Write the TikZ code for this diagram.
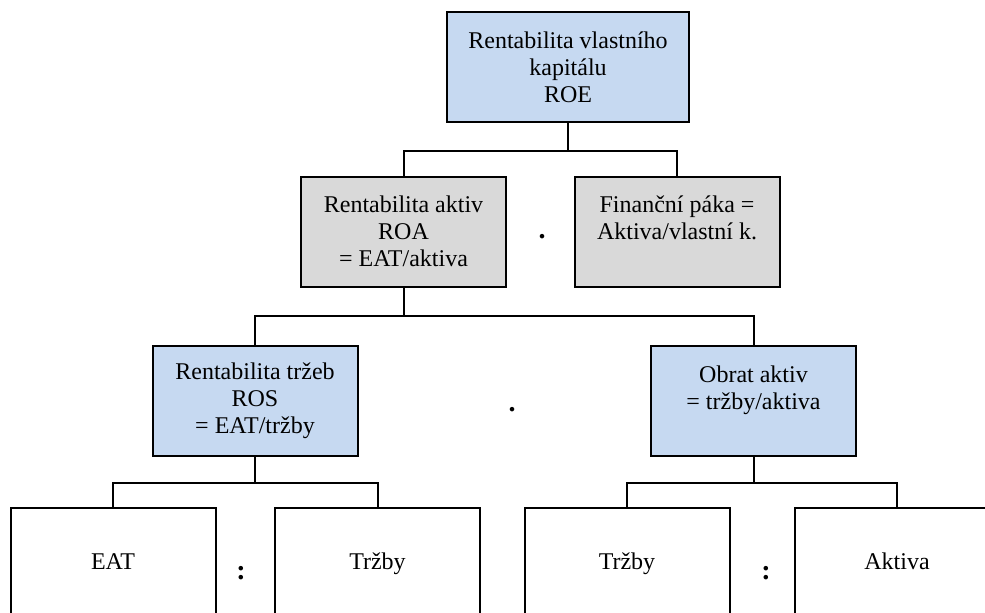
\documentclass[tikz,border=0pt]{standalone}
\usepackage{fontspec}
\setmainfont{Liberation Serif}
\definecolor{boxblue}{HTML}{C6D9F1}
\definecolor{boxgray}{HTML}{D9D9D9}
\begin{document}
\begin{tikzpicture}[x=0.5pt,y=-0.5pt,line width=1pt,
  box/.style={draw=black,inner sep=0pt,minimum width=102.5pt,minimum height=55pt,
    align=center,font=\fontsize{12}{13.5}\selectfont},
  bluebox/.style={box,fill=boxblue},
  graybox/.style={box,fill=boxgray},
  leaf/.style={box,text height=8.5pt,text depth=2.5pt},
  sign/.style={inner sep=0pt,font=\fontsize{14}{14}\selectfont\bfseries}]
 \useasboundingbox (0,0) rectangle (985,612);
 \clip (0,0) rectangle (985,612);
 \node[bluebox,minimum width=121pt] (roe) at (568,67) {Rentabilita vlastního\\kapitálu\\ROE};
 \node[graybox] (roa) at (403.5,231.5) {Rentabilita aktiv\\ROA\\= EAT/aktiva};
 \node[graybox] (paka) at (677,231.5) {Finanční páka =\\Aktiva/vlastní k.\\\phantom{A}};
 \node[bluebox] (ros) at (255,401) {Rentabilita tržeb\\ROS\\= EAT/tržby};
 \node[bluebox] (obrat) at (753.5,401) {Obrat aktiv\\= tržby/aktiva\\\phantom{A}};
 \node[leaf] (eat) at (113,563) {EAT};
 \node[leaf] (trzbyA) at (377.5,563) {Tržby};
 \node[leaf] (trzbyB) at (627,563) {Tržby};
 \node[leaf] (aktiva) at (897,563) {Aktiva};
 \node[sign] (krat1) at (542,237) {.};
 \node[sign] (krat2) at (512,410) {.};
 \node[sign] (del1) at (241,573) {:};
 \node[sign] (del2) at (766,573) {:};
 \draw (roe.south) -- ++(0,28) coordinate (j1);
 \draw (roa.north) |- (j1) -| (paka.north);
 \draw (roa.south) -- ++(0,28) coordinate (j2);
 \draw (ros.north) |- (j2) -| (obrat.north);
 \draw (ros.south) -- ++(0,26) coordinate (j3);
 \draw (eat.north) |- (j3) -| (trzbyA.north);
 \draw (obrat.south) -- ++(0,26) coordinate (j4);
 \draw (trzbyB.north) |- (j4) -| (aktiva.north);
\end{tikzpicture}
\end{document}
